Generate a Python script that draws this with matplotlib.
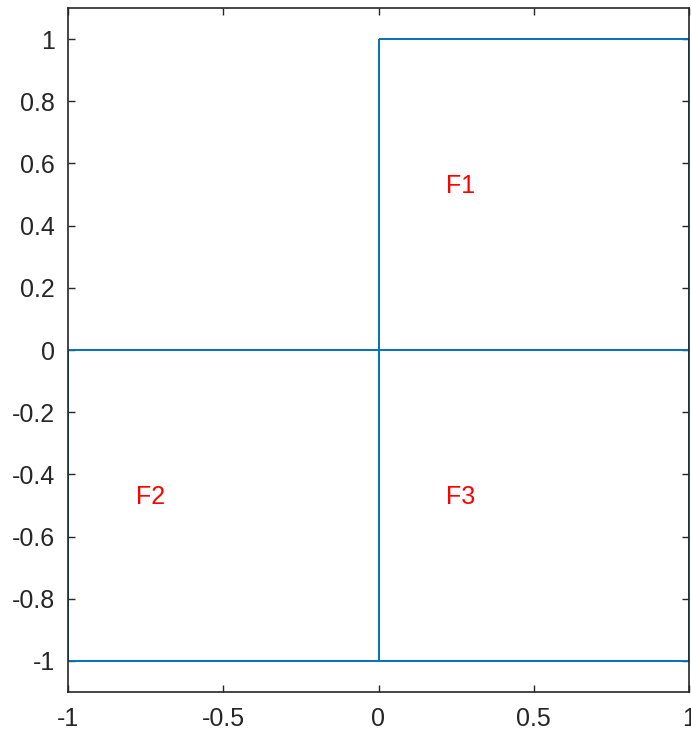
import matplotlib
matplotlib.use('Agg')
import matplotlib.pyplot as plt

# geometry edges of the L-shaped domain (x0, x1, y0, y1)
edge_x = [(0, 1), (1, 1), (0, 1), (-1, 0), (-1, -1), (-1, 0), (0, 1), (0, 0), (0, 0)]
edge_y = [(1, 1), (1, -1), (0, 0), (0, 0), (0, -1), (-1, -1), (-1, -1), (1, 0), (0, -1)]

face_labels = ['F1', 'F2', 'F3']
face_x = [0.265, -0.735, 0.265]
face_y = [0.528, -0.472, -0.472]

xticks = [-1, -0.5, 0, 0.5, 1]
xticklabels = ['-1', '-0.5', '0', '0.5', '1']
yticks = [1, 0.8, 0.6, 0.4, 0.2, 0, -0.2, -0.4, -0.6, -0.8, -1]
yticklabels = ['1', '0.8', '0.6', '0.4', '0.2', '0', '-0.2', '-0.4', '-0.6', '-0.8', '-1']

plt.rcParams['font.family'] = ['Liberation Sans', 'DejaVu Sans']

fig = plt.figure(figsize=(6.91, 7.37), dpi=100)
ax = fig.add_axes([68 / 691, 45 / 737, 621 / 691, 684 / 737])

for xs, ys in zip(edge_x, edge_y):
    ax.plot(xs, ys, color='#0072BD', lw=1.4, solid_capstyle='butt')

for lab, x, y in zip(face_labels, face_x, face_y):
    ax.text(x, y, lab, color='red', fontsize=18, ha='center', va='center')

ax.set_xlim(-1, 1)
ax.set_ylim(-1.1, 1.1)
ax.set_xticks(xticks)
ax.set_xticklabels(xticklabels)
ax.set_yticks(yticks)
ax.set_yticklabels(yticklabels)
ax.tick_params(direction='in', length=5, width=1, colors='#262626', labelsize=18,
               top=True, right=True)
ax.tick_params(axis='x', pad=11)
ax.tick_params(axis='y', pad=9.5)
for sp in ax.spines.values():
    sp.set_color('#262626')
    sp.set_linewidth(1.2)

fig.savefig('out.png', dpi=100)
